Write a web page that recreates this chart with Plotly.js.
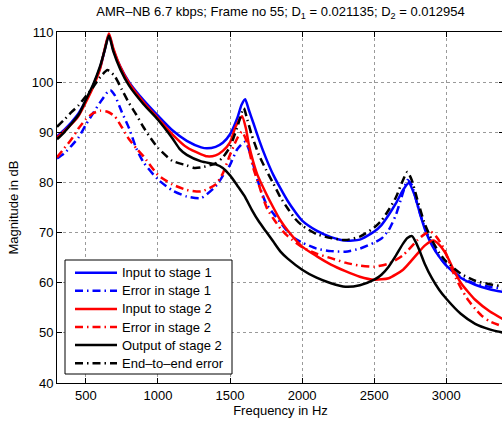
<!DOCTYPE html>
<html>
<head>
<meta charset="utf-8">
<script src="https://cdn.plot.ly/plotly-3.0.1.min.js"></script>
<style>
html,body{margin:0;padding:0;overflow:hidden;background:#fff;}
#chart{width:504px;height:426px;}
</style>
</head>
<body>
<div id="chart"></div>
<script>
// Input to stage 1 (blue solid)
var fIn1 = [300,350,400,450,500,550,600,630,660,690,740,800,900,1000,1100,1200,1300,1340,1400,1450,1500,1550,1580,1605,1630,1660,1700,1750,1800,1850,1900,1950,2000,2100,2200,2300,2400,2500,2550,2600,2650,2700,2740,2780,2820,2860,2900,2950,3000,3100,3200,3300,3400];
var mIn1 = [89.2,90.5,92,93.8,96.3,99.3,103,106.3,109.5,106.5,103,100,96.4,93.3,90.4,88.3,87,86.8,87.1,87.9,89.6,92.8,95.5,96.6,94.5,92,88.6,84.8,81.5,78.8,76.3,74.2,72.4,70.4,69.1,68.4,68.6,70.2,71.5,73.5,75.8,78.5,79.9,77.5,73.5,70,67.5,65.2,63.4,61,59.6,58.7,58.1];

// Error in stage 1 (blue dash-dot)
var fErr1 = [300,350,400,450,500,550,600,650,670,700,750,800,850,900,1000,1100,1200,1300,1400,1450,1500,1550,1605,1640,1680,1710,1750,1800,1850,1900,1950,2000,2100,2200,2300,2400,2500,2550,2600,2650,2700,2730,2760,2800,2850,2900,2950,3000,3100,3200,3300,3400];
var mErr1 = [84.8,85.8,87.3,89,91.5,93.8,96,98,98.4,97.4,94,90.8,86.8,84,80.6,78.4,77.2,76.9,79.2,81.3,83.5,86.6,88.1,85.8,81.5,78.8,75.8,73.8,72,70.2,68.8,68,66.8,66.3,66.2,66.8,68,68.8,70.5,73.5,78,80.5,79.5,75.5,71,67.8,65.3,63.5,61.1,59.8,59.2,58.8];

// Input to stage 2 (red solid)
var fIn2 = [300,350,400,450,500,550,600,630,660,690,740,800,900,1000,1100,1200,1300,1340,1400,1450,1500,1540,1583,1610,1630,1660,1690,1750,1800,1850,1900,2000,2100,2200,2300,2400,2500,2600,2700,2800,2850,2910,2950,3000,3050,3100,3150,3200,3300,3400];
var mIn2 = [88.9,90.2,91.6,93.3,96,99,102.8,106.5,109.7,106.8,103,99.8,96,92.8,89.6,87,85.6,85.2,85.4,86.3,88,91.2,93.2,90.8,87.6,84.2,81.5,77.8,75,72.4,70.4,67.2,65.3,63.6,62.3,61.2,60.6,60.9,62.6,65.8,67.4,68.4,67.6,65.6,62.6,60,58.2,56.6,54.3,52.6];

// Error in stage 2 (red dash-dot)
var fErr2 = [300,350,400,450,500,550,600,650,700,750,800,850,900,1000,1100,1200,1300,1400,1450,1500,1550,1583,1620,1660,1700,1733,1760,1800,1850,1900,2000,2100,2200,2300,2400,2500,2600,2700,2800,2850,2890,2930,2980,3050,3100,3150,3200,3250,3300,3400];
var mErr2 = [85,86.8,88.6,90.8,92.6,93.8,94.3,94.1,93.2,91,88.6,86.8,85.2,81.5,79.6,78.5,78.2,79.6,81.8,85.5,88.8,90.1,87.8,83,79.5,76.6,74.6,72.8,70.8,69.3,67.1,65.8,64.9,64,63.4,63.2,63.8,65.5,68.5,69.7,70.2,69.2,67,61.9,59,56.6,54.8,53.3,52.3,51.2];

// Output of stage 2 (black solid)
var fOut2 = [300,350,400,450,500,550,600,630,660,690,740,800,900,1000,1100,1150,1200,1300,1400,1450,1500,1550,1600,1650,1700,1750,1800,1850,1900,2000,2100,2200,2300,2400,2500,2550,2600,2650,2700,2730,2762,2790,2820,2850,2900,2950,3000,3100,3200,3300,3400];
var mOut2 = [88.6,90,91.7,93.5,96.5,99.5,103.3,106.3,109.3,106.2,102.5,99.3,95.6,92.5,88.8,86.7,85.5,84.2,83.6,82.9,81.4,79.4,77.3,74.6,72.2,70.2,68.2,66.2,64.8,62.6,61,59.9,59.2,59.5,60.6,61.6,63.2,65.4,67.8,68.9,69.3,68,66,63.8,60.9,58.6,56.8,53.8,51.8,50.7,50];

// End-to-end error (black dash-dot)
var fE2e = [300,350,400,450,500,550,600,650,700,750,800,850,900,950,1000,1100,1200,1250,1300,1400,1450,1500,1550,1595,1620,1650,1700,1750,1800,1850,1900,1950,2000,2100,2200,2300,2400,2500,2550,2600,2650,2700,2730,2760,2800,2850,2900,2950,3000,3100,3200,3300,3400];
var mE2e = [91.1,92.5,94,95.4,97.2,99,101,102.4,101.2,98.5,95.8,93.5,91,88.8,86.9,84.3,83.4,82.9,83,83.8,85,87.1,91,94.8,92.5,89.5,85.5,82.5,79.8,77,74.8,72.8,71.4,69.7,68.9,68.5,69.2,71,72.4,74.5,77,80.5,82.1,80.5,76.5,71.8,68.5,66,64.2,61.8,60.4,59.7,59.2];

var names = ['Input to stage 1','Error in stage 1','Input to stage 2','Error in stage 2','Output of stage 2','End\u2013to\u2013end error'];
var colors = ['#0000ff','#0000ff','#ff0000','#ff0000','#000000','#000000'];
var xTicks = [500,1000,1500,2000,2500,3000];
var yTicks = [40,50,60,70,80,90,100,110];

var DASH = '8px,4px,1.5px,4px';
var dashes = ['solid',DASH,'solid',DASH,'solid',DASH];
var series = [[fIn1,mIn1],[fErr1,mErr1],[fIn2,mIn2],[fErr2,mErr2],[fOut2,mOut2],[fE2e,mE2e]];

var data = series.map(function(s,i){
  return {x:s[0], y:s[1], name:names[i], type:'scatter', mode:'lines', showlegend:false,
    line:{color:colors[i], width:2.5, dash:dashes[i], shape:'spline', smoothing:0.6}};
});

// plot area geometry (px) for a hand-built MATLAB-style legend
var PL = 57, PW = 447, PT = 32, PH = 351;
function px2x(p){ return (p-PL)/PW; }
function py2y(p){ return (PT+PH-p)/PH; }
var shapes = [{type:'rect', xref:'paper', yref:'paper', x0:px2x(65), x1:px2x(232), y0:py2y(374), y1:py2y(260),
  fillcolor:'#fff', line:{color:'#000', width:1}, layer:'above'}];
var annotations = [];
names.forEach(function(n,i){
  var cy = 272.7 + 18.1*i;
  shapes.push({type:'line', xref:'paper', yref:'paper', x0:px2x(75), x1:px2x(117), y0:py2y(cy), y1:py2y(cy),
    line:{color:colors[i], width:2.5, dash:dashes[i]}, layer:'above'});
  annotations.push({xref:'paper', yref:'paper', x:px2x(120), y:py2y(cy), xanchor:'left', yanchor:'middle',
    text:n, showarrow:false, font:{size:13, color:'#000'}});
});

var FONT = 'Liberation Sans, Arial, Helvetica, sans-serif';
var layout = {
  width:504, height:426,
  margin:{l:57, r:0, t:32, b:43, pad:0},
  paper_bgcolor:'#fff', plot_bgcolor:'#fff',
  font:{family:FONT, size:13, color:'#000'},
  showlegend:false,
  title:{text:'AMR\u2013NB 6.7 kbps; Frame no 55; D<sub>1</sub> = 0.021135; D<sub>2</sub> = 0.012954',
    font:{family:FONT, size:13, color:'#000'}, x:0.5, xref:'paper', xanchor:'center', y:0.972, yanchor:'middle', yref:'container'},
  xaxis:{range:[300,3400], tickvals:xTicks, ticktext:xTicks.map(String), ticks:'inside', ticklen:5, tickcolor:'#000',
    showline:true, linecolor:'#000', linewidth:1, mirror:'ticks', showgrid:true, gridcolor:'#9a9a9a', griddash:'dot', gridwidth:1,
    zeroline:false, tickfont:{size:13}, title:{text:'Frequency in Hz', font:{size:13}, standoff:4}},
  yaxis:{range:[40,110], tickvals:yTicks, ticktext:yTicks.map(String), ticks:'inside', ticklen:5, tickcolor:'#000',
    showline:true, linecolor:'#000', linewidth:1, mirror:'ticks', showgrid:true, gridcolor:'#9a9a9a', griddash:'dot', gridwidth:1,
    zeroline:false, tickfont:{size:13}, title:{text:'Magnitude in dB', font:{size:13}, standoff:10}},
  shapes:shapes,
  annotations:annotations
};
Plotly.newPlot('chart', data, layout, {staticPlot:true, displayModeBar:false});
</script>
</body>
</html>
